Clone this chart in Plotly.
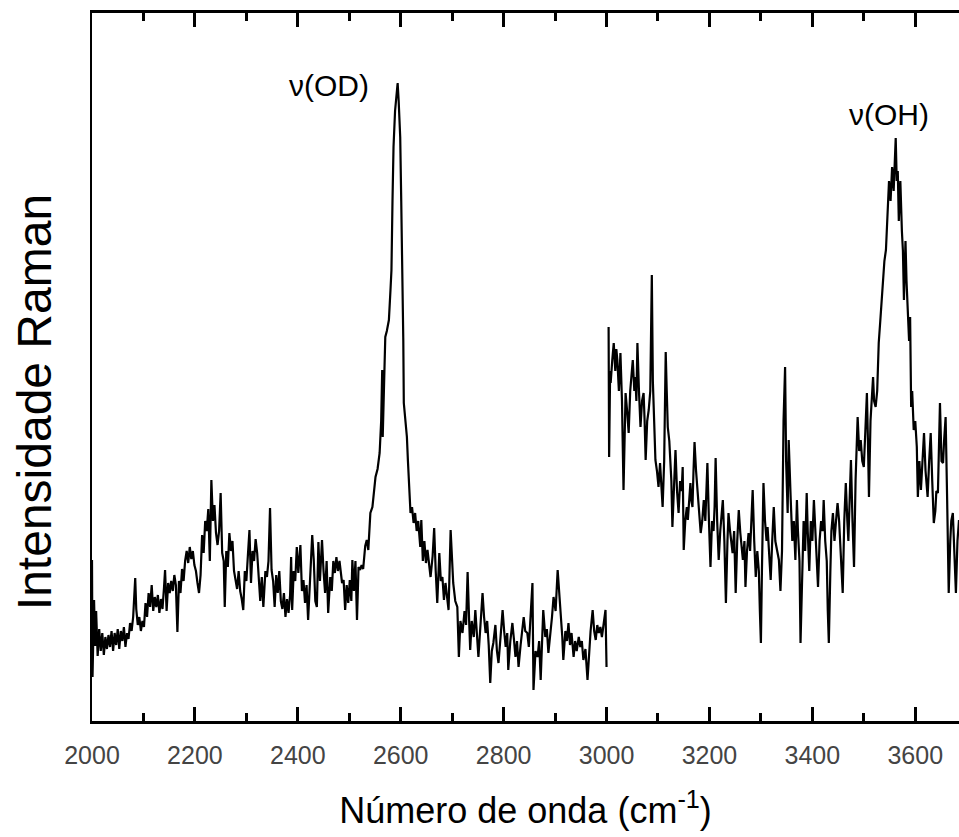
import plotly.graph_objects as go

# Segment 1: OD region (wavenumber, cm-1) and Raman intensity (a.u.)
wn_od = [2000, 2001, 2004, 2006, 2008, 2011, 2014, 2017, 2020, 2023, 2026, 2029, 2032, 2035, 2038, 2041, 2044, 2047,
         2050, 2053, 2056, 2059, 2062, 2065, 2068, 2071, 2074, 2077, 2080, 2084, 2086, 2089, 2092, 2095, 2098, 2101,
         2104, 2107, 2110, 2113, 2116, 2119, 2122, 2125, 2128, 2131, 2134, 2137, 2140, 2142, 2145, 2148, 2151, 2154,
         2157, 2160, 2163, 2166, 2169, 2172, 2175, 2178, 2181, 2184, 2187, 2190, 2193, 2196, 2199, 2202, 2205, 2208,
         2211, 2214, 2217, 2220, 2223, 2226, 2229, 2232, 2235, 2238, 2241, 2244, 2247, 2250, 2253, 2256, 2258, 2261,
         2264, 2267, 2270, 2273, 2276, 2279, 2282, 2285, 2288, 2291, 2294, 2297, 2300, 2303, 2306, 2309, 2312, 2315,
         2318, 2321, 2327, 2330, 2333, 2337, 2340, 2343, 2346, 2349, 2352, 2355, 2358, 2361, 2364, 2367, 2370, 2373,
         2376, 2379, 2382, 2385, 2387, 2389, 2392, 2395, 2398, 2401, 2405, 2408, 2411, 2414, 2417, 2420, 2424, 2428,
         2431, 2434, 2437, 2440, 2443, 2447, 2450, 2453, 2456, 2459, 2463, 2466, 2469, 2472, 2475, 2478, 2481, 2484,
         2486, 2489, 2492, 2495, 2498, 2501, 2504, 2506, 2509, 2512, 2515, 2518, 2521, 2524, 2527, 2531, 2534, 2537,
         2541, 2545, 2549, 2551, 2555, 2559, 2562, 2564, 2565, 2567, 2570, 2573, 2577, 2580, 2582, 2584, 2586, 2589,
         2592, 2594, 2596, 2599, 2601, 2603, 2605, 2606, 2609, 2612, 2614, 2616, 2619, 2622, 2625, 2628, 2631, 2634,
         2638, 2640, 2643, 2646, 2649, 2652, 2655, 2658, 2662, 2665, 2668, 2671, 2675, 2678, 2681, 2684, 2687, 2690,
         2693, 2697, 2700, 2702, 2706, 2710, 2713, 2716, 2720, 2724, 2727, 2730, 2733, 2735, 2738, 2742, 2745, 2748,
         2751, 2755, 2759, 2762, 2765, 2768, 2771, 2774, 2777, 2780, 2784, 2787, 2790, 2794, 2798, 2801, 2804, 2807,
         2809, 2813, 2817, 2820, 2823, 2826, 2829, 2833, 2836, 2839, 2842, 2846, 2849, 2852, 2856, 2858, 2862, 2866,
         2869, 2872, 2875, 2877, 2881, 2884, 2887, 2891, 2894, 2897, 2901, 2905, 2908, 2911, 2914, 2916, 2920, 2923,
         2926, 2929, 2932, 2936, 2939, 2942, 2946, 2949, 2952, 2955, 2959, 2963, 2966, 2969, 2973, 2976, 2979, 2982,
         2985, 2988, 2991, 2995, 2998, 3000]
int_od = [161, 44, 121, 75, 110, 65, 92, 70, 88, 66, 84, 72, 86, 74, 90, 70, 88, 76,
          92, 72, 90, 80, 94, 74, 88, 82, 98, 90, 104, 143, 112, 96, 104, 90, 100, 94,
          118, 104, 128, 114, 136, 110, 124, 114, 126, 108, 122, 112, 134, 151, 110, 138, 128, 140,
          130, 146, 136, 89, 140, 128, 152, 140, 160, 170, 158, 174, 162, 170, 156, 150, 138, 128,
          146, 186, 168, 200, 190, 212, 160, 241, 200, 216, 188, 176, 190, 228, 168, 160, 114, 170,
          154, 188, 170, 180, 150, 140, 132, 150, 130, 122, 111, 150, 140, 166, 191, 138, 170, 160,
          182, 168, 120, 144, 114, 150, 144, 160, 213, 151, 140, 114, 146, 128, 150, 120, 112, 128,
          104, 122, 108, 126, 164, 111, 150, 140, 174, 148, 176, 130, 141, 118, 136, 101, 150, 186,
          161, 120, 114, 179, 140, 181, 150, 128, 160, 108, 144, 130, 160, 148, 164, 150, 160, 148,
          138, 141, 111, 136, 118, 141, 120, 161, 130, 160, 101, 154, 151, 156, 152, 175, 181, 171,
          208, 214, 236, 244, 252, 268, 300, 351, 284, 340, 384, 390, 401, 430, 451, 520, 574, 610,
          630, 638, 620, 584, 520, 458, 380, 318, 300, 284, 260, 234, 208, 214, 198, 208, 190, 200,
          174, 201, 160, 180, 158, 171, 154, 144, 165, 193, 150, 118, 168, 140, 144, 121, 138, 125,
          111, 191, 150, 138, 120, 114, 64, 100, 88, 110, 96, 149, 100, 71, 100, 84, 111, 90,
          64, 96, 128, 104, 88, 100, 76, 38, 70, 78, 96, 70, 58, 84, 111, 90, 74, 88,
          51, 80, 98, 82, 64, 80, 54, 76, 88, 104, 90, 88, 74, 100, 138, 31, 70, 64,
          80, 41, 90, 111, 84, 92, 68, 86, 104, 124, 110, 151, 130, 111, 84, 61, 90, 80,
          98, 76, 88, 64, 80, 70, 84, 74, 80, 61, 72, 41, 70, 90, 111, 90, 81, 96,
          88, 94, 84, 100, 111, 54]

# Segment 2: OH region
wn_oh = [3004, 3005, 3007, 3008, 3011, 3014, 3017, 3019, 3021, 3024, 3027, 3030, 3033, 3035, 3037, 3040, 3043, 3046,
         3049, 3051, 3054, 3056, 3058, 3060, 3063, 3066, 3069, 3072, 3074, 3076, 3079, 3082, 3085, 3088, 3090, 3091,
         3093, 3095, 3098, 3101, 3104, 3106, 3109, 3112, 3115, 3117, 3119, 3122, 3124, 3126, 3128, 3131, 3134, 3137,
         3140, 3143, 3146, 3148, 3150, 3153, 3156, 3158, 3161, 3163, 3165, 3167, 3169, 3171, 3174, 3177, 3180, 3183,
         3186, 3189, 3192, 3194, 3196, 3199, 3202, 3205, 3208, 3210, 3212, 3215, 3218, 3221, 3224, 3226, 3229, 3232,
         3235, 3237, 3240, 3243, 3245, 3248, 3251, 3254, 3257, 3260, 3263, 3265, 3268, 3270, 3273, 3276, 3279, 3282,
         3284, 3287, 3290, 3293, 3296, 3298, 3300, 3302, 3305, 3308, 3311, 3313, 3316, 3319, 3322, 3325, 3328, 3331,
         3335, 3338, 3341, 3344, 3347, 3349, 3352, 3354, 3356, 3358, 3361, 3364, 3367, 3370, 3372, 3375, 3377, 3380,
         3383, 3386, 3389, 3391, 3394, 3397, 3400, 3403, 3406, 3408, 3411, 3414, 3417, 3420, 3422, 3425, 3428, 3430,
         3432, 3435, 3437, 3440, 3443, 3446, 3449, 3452, 3455, 3459, 3462, 3465, 3468, 3470, 3473, 3475, 3478, 3481,
         3484, 3486, 3488, 3491, 3494, 3497, 3500, 3503, 3506, 3508, 3510, 3513, 3515, 3518, 3520, 3523, 3526, 3529,
         3532, 3536, 3540, 3543, 3546, 3549, 3552, 3555, 3558, 3560, 3562, 3564, 3566, 3568, 3571, 3574, 3576, 3578,
         3581, 3583, 3585, 3588, 3590, 3592, 3594, 3597, 3600, 3603, 3605, 3608, 3611, 3614, 3617, 3620, 3622, 3624,
         3627, 3630, 3633, 3636, 3639, 3641, 3644, 3646, 3648, 3651, 3654, 3656, 3659, 3662, 3665, 3668, 3670, 3673,
         3676, 3679, 3682, 3685]
int_oh = [394, 264, 350, 338, 360, 378, 350, 372, 361, 330, 368, 320, 231, 300, 328, 310, 288, 330,
          346, 361, 330, 344, 320, 378, 330, 294, 320, 328, 300, 261, 300, 311, 330, 446, 340, 318,
          290, 261, 250, 234, 258, 240, 214, 260, 369, 330, 294, 280, 261, 240, 194, 240, 271, 230,
          208, 240, 230, 254, 171, 200, 214, 201, 224, 238, 220, 214, 250, 279, 250, 228, 210, 188,
          200, 221, 200, 230, 258, 200, 154, 200, 190, 214, 263, 200, 161, 190, 210, 221, 180, 118,
          180, 208, 190, 175, 168, 190, 128, 180, 211, 188, 170, 161, 180, 134, 170, 188, 170, 210,
          231, 180, 144, 170, 150, 110, 78, 150, 238, 200, 180, 194, 170, 141, 180, 214, 180, 170,
          161, 130, 170, 300, 354, 260, 208, 281, 240, 221, 180, 200, 161, 221, 190, 160, 78, 150,
          200, 170, 228, 190, 150, 200, 180, 221, 190, 170, 134, 180, 200, 190, 221, 180, 160, 110,
          78, 150, 190, 208, 180, 200, 218, 200, 170, 128, 200, 238, 200, 180, 230, 261, 200, 154,
          241, 270, 304, 270, 281, 260, 254, 290, 328, 280, 224, 300, 320, 344, 320, 314, 330, 378,
          400, 431, 460, 471, 500, 540, 520, 554, 530, 560, 583, 540, 550, 500, 540, 490, 470, 421,
          480, 440, 418, 380, 404, 314, 330, 291, 300, 274, 224, 260, 231, 260, 288, 250, 240, 224,
          260, 288, 240, 198, 210, 230, 228, 280, 318, 260, 258, 280, 304, 220, 128, 180, 200, 208,
          160, 128, 180, 201]

x_range = [2000, 3685]
y_range = [0, 708]

peak_labels = ["\u03bd(OD)", "\u03bd(OH)"]
peak_label_x = [2461, 3548]
peak_label_y = [636, 607]

FONT = "Liberation Sans, Arial, sans-serif"

fig = go.Figure()
for wx, iy in [(wn_od, int_od), (wn_oh, int_oh)]:
    fig.add_trace(go.Scatter(x=wx, y=iy, mode="lines",
                             line=dict(color="black", width=2.2),
                             showlegend=False, hoverinfo="skip"))

for t, lx, ly in zip(peak_labels, peak_label_x, peak_label_y):
    fig.add_annotation(x=lx, y=ly, xref="x", yref="y", text=t, showarrow=False,
                       font=dict(family=FONT, size=30, color="black"))

# Y-axis title (placed as rotated text, slightly below the plot centre as in the reference)
fig.add_annotation(x=-0.066, y=0.45, xref="paper", yref="paper",
                   text="Intensidade Raman", textangle=-90, showarrow=False,
                   xanchor="center", yanchor="middle",
                   font=dict(family=FONT, size=48, color="black"))

fig.update_layout(
    width=959, height=837,
    margin=dict(l=92, r=0, t=13, b=116),
    paper_bgcolor="white", plot_bgcolor="white",
    showlegend=False,
    font=dict(family=FONT, color="black"),
    xaxis=dict(
        range=x_range, tick0=2000, dtick=200,
        ticks="inside", ticklen=14, tickwidth=2.5, tickcolor="black",
        minor=dict(dtick=100, ticks="inside", ticklen=8, tickwidth=2.5, tickcolor="black"),
        showline=True, linewidth=3, linecolor="black", mirror="ticks",
        showgrid=False, zeroline=False,
        tickfont=dict(family=FONT, size=25, color="#444444"),
        ticklabelstandoff=10,
        title=dict(text="Número de onda (cm<sup>-1</sup>)",
                   font=dict(family=FONT, size=36, color="black"), standoff=30),
        automargin=False,
    ),
    yaxis=dict(
        range=y_range, showticklabels=False, ticks="",
        showline=True, linewidth=2.2, linecolor="black",
        showgrid=False, zeroline=False,
        automargin=False,
    ),
)

fig.write_html("out.html")
